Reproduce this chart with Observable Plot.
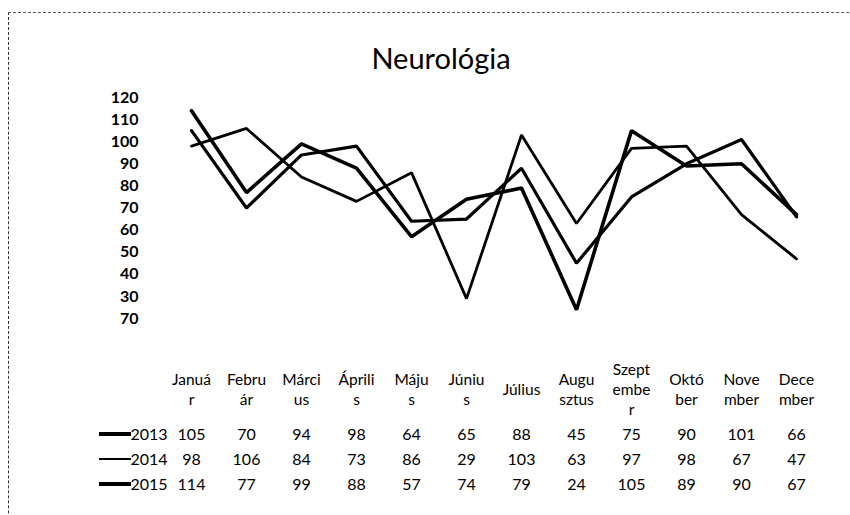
<!DOCTYPE html>
<html><head><meta charset="utf-8">
<script src="https://cdn.jsdelivr.net/npm/d3@7"></script>
<script src="https://cdn.jsdelivr.net/npm/@observablehq/plot@0.6"></script>
<style>
body{margin:0;background:#fff;}
#wrap{position:relative;width:850px;height:515px;overflow:hidden;font-family:Lato,"Open Sans",sans-serif;color:#000;background:#fff;}
#frame{position:absolute;left:8px;top:12px;width:900px;height:600px;border-left:1.5px dashed #333;border-top:1.5px dashed #555;}
#title{position:absolute;left:0;width:882px;top:41px;text-align:center;font-size:29px;line-height:34px;}
#main{position:absolute;left:0;top:0;}
#table{position:absolute;left:0;top:420px;}
.sw{position:absolute;background:#000;left:99px;width:32px;}
</style></head>
<body>
<div id="wrap">
  <div id="frame"></div>
  <div id="title">Neurológia</div>
  <div id="main"></div>
  <div id="table"></div>
</div>
<script>
const months = ["Januá\nr","Febru\nár","Márci\nus","Áprili\ns","Máju\ns","Júniu\ns","Július","Augu\nsztus","Szept\nembe\nr","Októ\nber","Nove\nmber","Dece\nmber"];
const years = ["2013","2014","2015"];
const v2013 = [105, 70, 94, 98, 64, 65, 88, 45, 75, 90, 101, 66];
const v2014 = [98, 106, 84, 73, 86, 29, 103, 63, 97, 98, 67, 47];
const v2015 = [114, 77, 99, 88, 57, 74, 79, 24, 105, 89, 90, 67];
const yTicks = [20, 30, 40, 50, 60, 70, 80, 90, 100, 110, 120];
const yTickLabels = ["70", "30", "40", "50", "60", "70", "80", "90", "100", "110", "120"];
const widths = [3.2, 2.8, 3.6];

const seriesVals = [v2013, v2014, v2015];
const data = years.flatMap((yr, i) => seriesVals[i].map((v, j) => ({year: yr, month: months[j], value: v})));

const font = "Lato, 'Open Sans', sans-serif";

const main = Plot.plot({
  width: 850, height: 420,
  marginTop: 97, marginBottom: 102, marginLeft: 159, marginRight: 22,
  style: {fontFamily: font, background: "transparent", color: "#000", overflow: "visible"},
  x: {type: "point", domain: months, padding: 0.5, axis: null},
  y: {domain: [20, 120], axis: null},
  marks: [
    Plot.axisY(yTicks, {tickSize: 0, tickPadding: 21, fontSize: 16, fontWeight: "bold", label: null,
      tickFormat: d => yTickLabels[yTicks.indexOf(d)]}),
    Plot.text(months, {x: d => d, text: d => d, frameAnchor: "bottom", dy: 70,
      lineAnchor: "middle", lineHeight: 1.28, fontSize: 15.5}),
    ...years.map((yr, i) => Plot.line(data.filter(d => d.year === yr), {
      x: "month", y: "value", stroke: "#000", strokeWidth: widths[i], strokeLinejoin: "miter"
    }))
  ]
});
document.getElementById("main").appendChild(main);

const table = Plot.plot({
  width: 850, height: 95,
  marginTop: 14, marginBottom: 31, marginLeft: 159, marginRight: 22,
  style: {fontFamily: font, background: "transparent", color: "#000", overflow: "visible"},
  x: {type: "point", domain: months, padding: 0.5, axis: null},
  y: {type: "point", domain: years, padding: 0, axis: null},
  marks: [
    Plot.text(data, {x: "month", y: "year", text: "value", fontSize: 16}),
    Plot.text(years, {y: d => d, text: d => d, frameAnchor: "left", textAnchor: "end", dx: 8, fontSize: 16})
  ]
});
document.getElementById("table").appendChild(table);

// legend swatches beside the year labels
const yScale = table.scale("y");
years.forEach((yr, i) => {
  const s = document.createElement("div");
  s.className = "sw";
  s.style.height = widths[i] + "px";
  s.style.top = (420 + yScale.apply(yr) - widths[i] / 2) + "px";
  document.getElementById("wrap").appendChild(s);
});
</script>
</body></html>
